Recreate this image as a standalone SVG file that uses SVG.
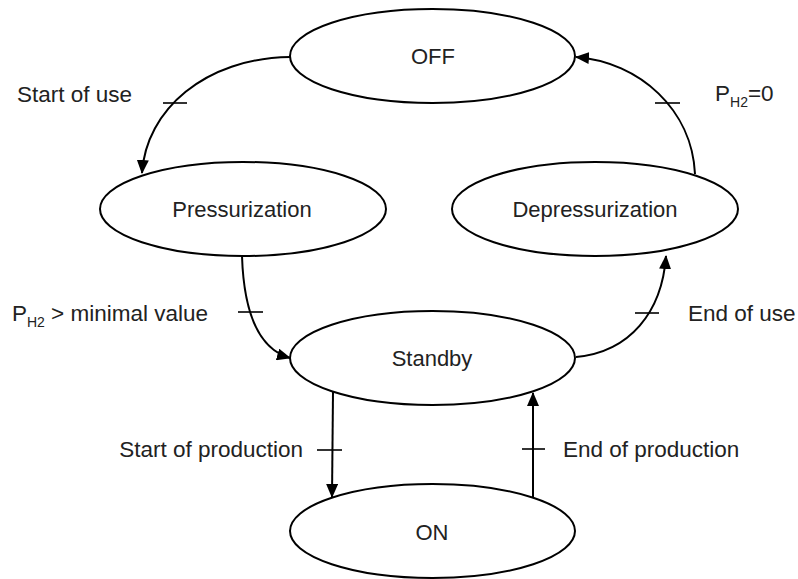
<svg xmlns="http://www.w3.org/2000/svg" width="798" height="579" viewBox="0 0 798 579">
<defs>
<marker id="arr" markerUnits="userSpaceOnUse" markerWidth="14" markerHeight="12" viewBox="0 0 14 12" refX="13" refY="6" orient="auto">
<path d="M0,0 L14,6 L0,12 Z" fill="#000"/>
</marker>
</defs>
<style>
.node ellipse{fill:#fff;stroke:#000;stroke-width:2}
.node text{font-family:"Liberation Sans",Arial,sans-serif;font-size:22px;fill:#222;text-anchor:middle}
.conn path{fill:none;stroke:#000;stroke-width:2}
.tick{stroke:#000;stroke-width:1.6}
.lbl{font-family:"Liberation Sans",Arial,sans-serif;font-size:22.5px;fill:#222}
.sub{font-size:14px}
</style>
<rect width="798" height="579" fill="#fff"/>
<g id="OFF" class="node"><ellipse cx="432.5" cy="56" rx="142.5" ry="47"/><text x="433" y="64">OFF</text></g>
<g id="Pressurization" class="node"><ellipse cx="243" cy="209" rx="143" ry="47"/><text x="242" y="217">Pressurization</text></g>
<g id="Depressurization" class="node"><ellipse cx="595" cy="209" rx="143" ry="47"/><text x="595" y="217">Depressurization</text></g>
<g id="Standby" class="node"><ellipse cx="432.5" cy="358" rx="142.5" ry="47"/><text x="432" y="366">Standby</text></g>
<g id="ON" class="node"><ellipse cx="432.5" cy="531" rx="142.5" ry="47"/><text x="432" y="540">ON</text></g>
<g id="connectors" class="conn">
<path d="M290,57 C205,58 146,110 142,173" marker-end="url(#arr)"/>
<path d="M695,174 C692,110 640,62 576,57" marker-end="url(#arr)"/>
<path d="M242,256 C244,318 262,350 290,358" marker-end="url(#arr)"/>
<path d="M576,357 C630,352 662,312 666,256" marker-end="url(#arr)"/>
<path d="M333,392 L332,497" marker-end="url(#arr)"/>
<path d="M533,497 L533,393" marker-end="url(#arr)"/>
</g>
<g id="ticks">
<line class="tick" x1="163" y1="103" x2="187" y2="103"/>
<line class="tick" x1="655" y1="103" x2="680" y2="103"/>
<line class="tick" x1="238" y1="312" x2="263" y2="312"/>
<line class="tick" x1="635" y1="313" x2="659" y2="313"/>
<line class="tick" x1="317" y1="450" x2="342" y2="450"/>
<line class="tick" x1="522" y1="449" x2="545" y2="449"/>
</g>
<g id="labels">
<text class="lbl" x="132" y="102" text-anchor="end">Start of use</text>
<text class="lbl" x="715" y="101">P<tspan class="sub" dy="6">H2</tspan><tspan dy="-6">=0</tspan></text>
<text class="lbl" x="208" y="321" text-anchor="end">P<tspan class="sub" dy="6">H2</tspan><tspan dy="-6"> &gt; minimal value</tspan></text>
<text class="lbl" x="688" y="321">End of use</text>
<text class="lbl" x="303" y="457" text-anchor="end">Start of production</text>
<text class="lbl" x="563" y="457">End of production</text>
</g>
</svg>
